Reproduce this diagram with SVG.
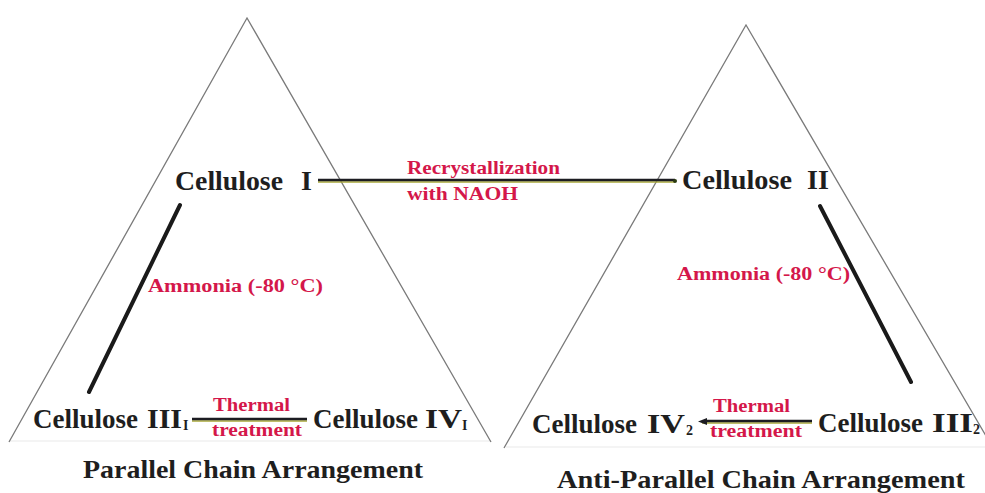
<svg xmlns="http://www.w3.org/2000/svg" width="985" height="493" viewBox="0 0 985 493">
<style>
.tri{fill:none;stroke:#7a7a7a;stroke-width:1.3}
.base{fill:none;stroke:#f1f1f1;stroke-width:1.5}
.lbl{font-family:"Liberation Serif","Times New Roman",serif;font-weight:bold;fill:#1e1e1e}
.red{font-family:"Liberation Serif","Times New Roman",serif;font-weight:bold;fill:#d4174a}
.dk{stroke:#1c1c22;stroke-width:2.6;fill:none}
.ol{stroke:#a8a83a;stroke-width:1.4;fill:none}
.diag{stroke:#1a1a1a;stroke-width:4;stroke-linecap:round;fill:none}
.sub{font-size:14px}
.head{fill:#1c1c22}
</style>
<g id="triangles">
<line class="base" x1="10" y1="441" x2="491" y2="441"/>
<line class="base" x1="506" y1="447" x2="985" y2="447"/>
<polyline class="tri" points="9,442 247,18 491,442"/>
<polyline class="tri" points="504,448 746,25 993,448"/>
</g>
<g id="connectors">
<line class="ol" x1="318" y1="182" x2="675" y2="182"/>
<line class="dk" x1="318" y1="180" x2="675" y2="180"/>
<circle cx="675" cy="181" r="2" fill="#2a3a10"/>
<line class="diag" x1="180" y1="205" x2="89" y2="392"/>
<line class="diag" x1="820" y1="206" x2="911" y2="382"/>
<line class="ol" x1="192" y1="421" x2="307" y2="421"/>
<line class="dk" x1="192" y1="419" x2="307" y2="419"/>
<line class="ol" x1="702" y1="423" x2="812" y2="423"/>
<line class="dk" x1="704" y1="421" x2="812" y2="421"/>
<polygon class="head" points="698,421.5 707,418 707,425"/>
</g>
<g id="cellulose-I">
<text class="lbl" font-size="28" y="190"><tspan x="175" textLength="108" lengthAdjust="spacingAndGlyphs">Cellulose</tspan><tspan x="301">I</tspan></text>
</g>
<g id="cellulose-II">
<text class="lbl" font-size="28" y="189"><tspan x="682" textLength="110" lengthAdjust="spacingAndGlyphs">Cellulose</tspan><tspan x="807">II</tspan></text>
</g>
<g id="recryst-label">
<text class="red" font-size="19" x="407" y="174" textLength="153" lengthAdjust="spacingAndGlyphs">Recrystallization</text>
<text class="red" font-size="19" x="407" y="200" textLength="111" lengthAdjust="spacingAndGlyphs">with NAOH</text>
</g>
<g id="ammonia-left">
<text class="red" font-size="18" x="148" y="292" textLength="175" lengthAdjust="spacingAndGlyphs">Ammonia (-80 °C)</text>
</g>
<g id="ammonia-right">
<text class="red" font-size="18" x="677" y="280" textLength="173" lengthAdjust="spacingAndGlyphs">Ammonia (-80 °C)</text>
</g>
<g id="cellulose-III1">
<text class="lbl" font-size="27" y="428"><tspan x="33" textLength="105" lengthAdjust="spacingAndGlyphs">Cellulose</tspan><tspan x="147" textLength="35" lengthAdjust="spacingAndGlyphs">III</tspan><tspan class="sub" x="183" y="430">I</tspan></text>
</g>
<g id="thermal-left">
<text class="red" font-size="18" x="213" y="411" textLength="77" lengthAdjust="spacingAndGlyphs">Thermal</text>
<text class="red" font-size="18" x="212" y="436" textLength="90" lengthAdjust="spacingAndGlyphs">treatment</text>
</g>
<g id="cellulose-IV1">
<text class="lbl" font-size="27" y="428"><tspan x="313" textLength="105" lengthAdjust="spacingAndGlyphs">Cellulose</tspan><tspan x="425" textLength="37" lengthAdjust="spacingAndGlyphs">IV</tspan><tspan class="sub" x="462" y="430">I</tspan></text>
</g>
<g id="cellulose-IV2">
<text class="lbl" font-size="27" y="433"><tspan x="532" textLength="105" lengthAdjust="spacingAndGlyphs">Cellulose</tspan><tspan x="647" textLength="38" lengthAdjust="spacingAndGlyphs">IV</tspan><tspan class="sub" x="686" y="435">2</tspan></text>
</g>
<g id="thermal-right">
<text class="red" font-size="18" x="713" y="412" textLength="77" lengthAdjust="spacingAndGlyphs">Thermal</text>
<text class="red" font-size="18" x="710" y="437" textLength="92" lengthAdjust="spacingAndGlyphs">treatment</text>
</g>
<g id="cellulose-III2">
<text class="lbl" font-size="27" y="432"><tspan x="818" textLength="105" lengthAdjust="spacingAndGlyphs">Cellulose</tspan><tspan x="932" textLength="41" lengthAdjust="spacingAndGlyphs">III</tspan><tspan class="sub" x="973" y="434">2</tspan></text>
</g>
<g id="title-left">
<text class="lbl" font-size="26" x="83" y="478" textLength="340" lengthAdjust="spacingAndGlyphs">Parallel Chain Arrangement</text>
</g>
<g id="title-right">
<text class="lbl" font-size="26" x="557" y="488" textLength="408" lengthAdjust="spacingAndGlyphs">Anti-Parallel Chain Arrangement</text>
</g>
</svg>
